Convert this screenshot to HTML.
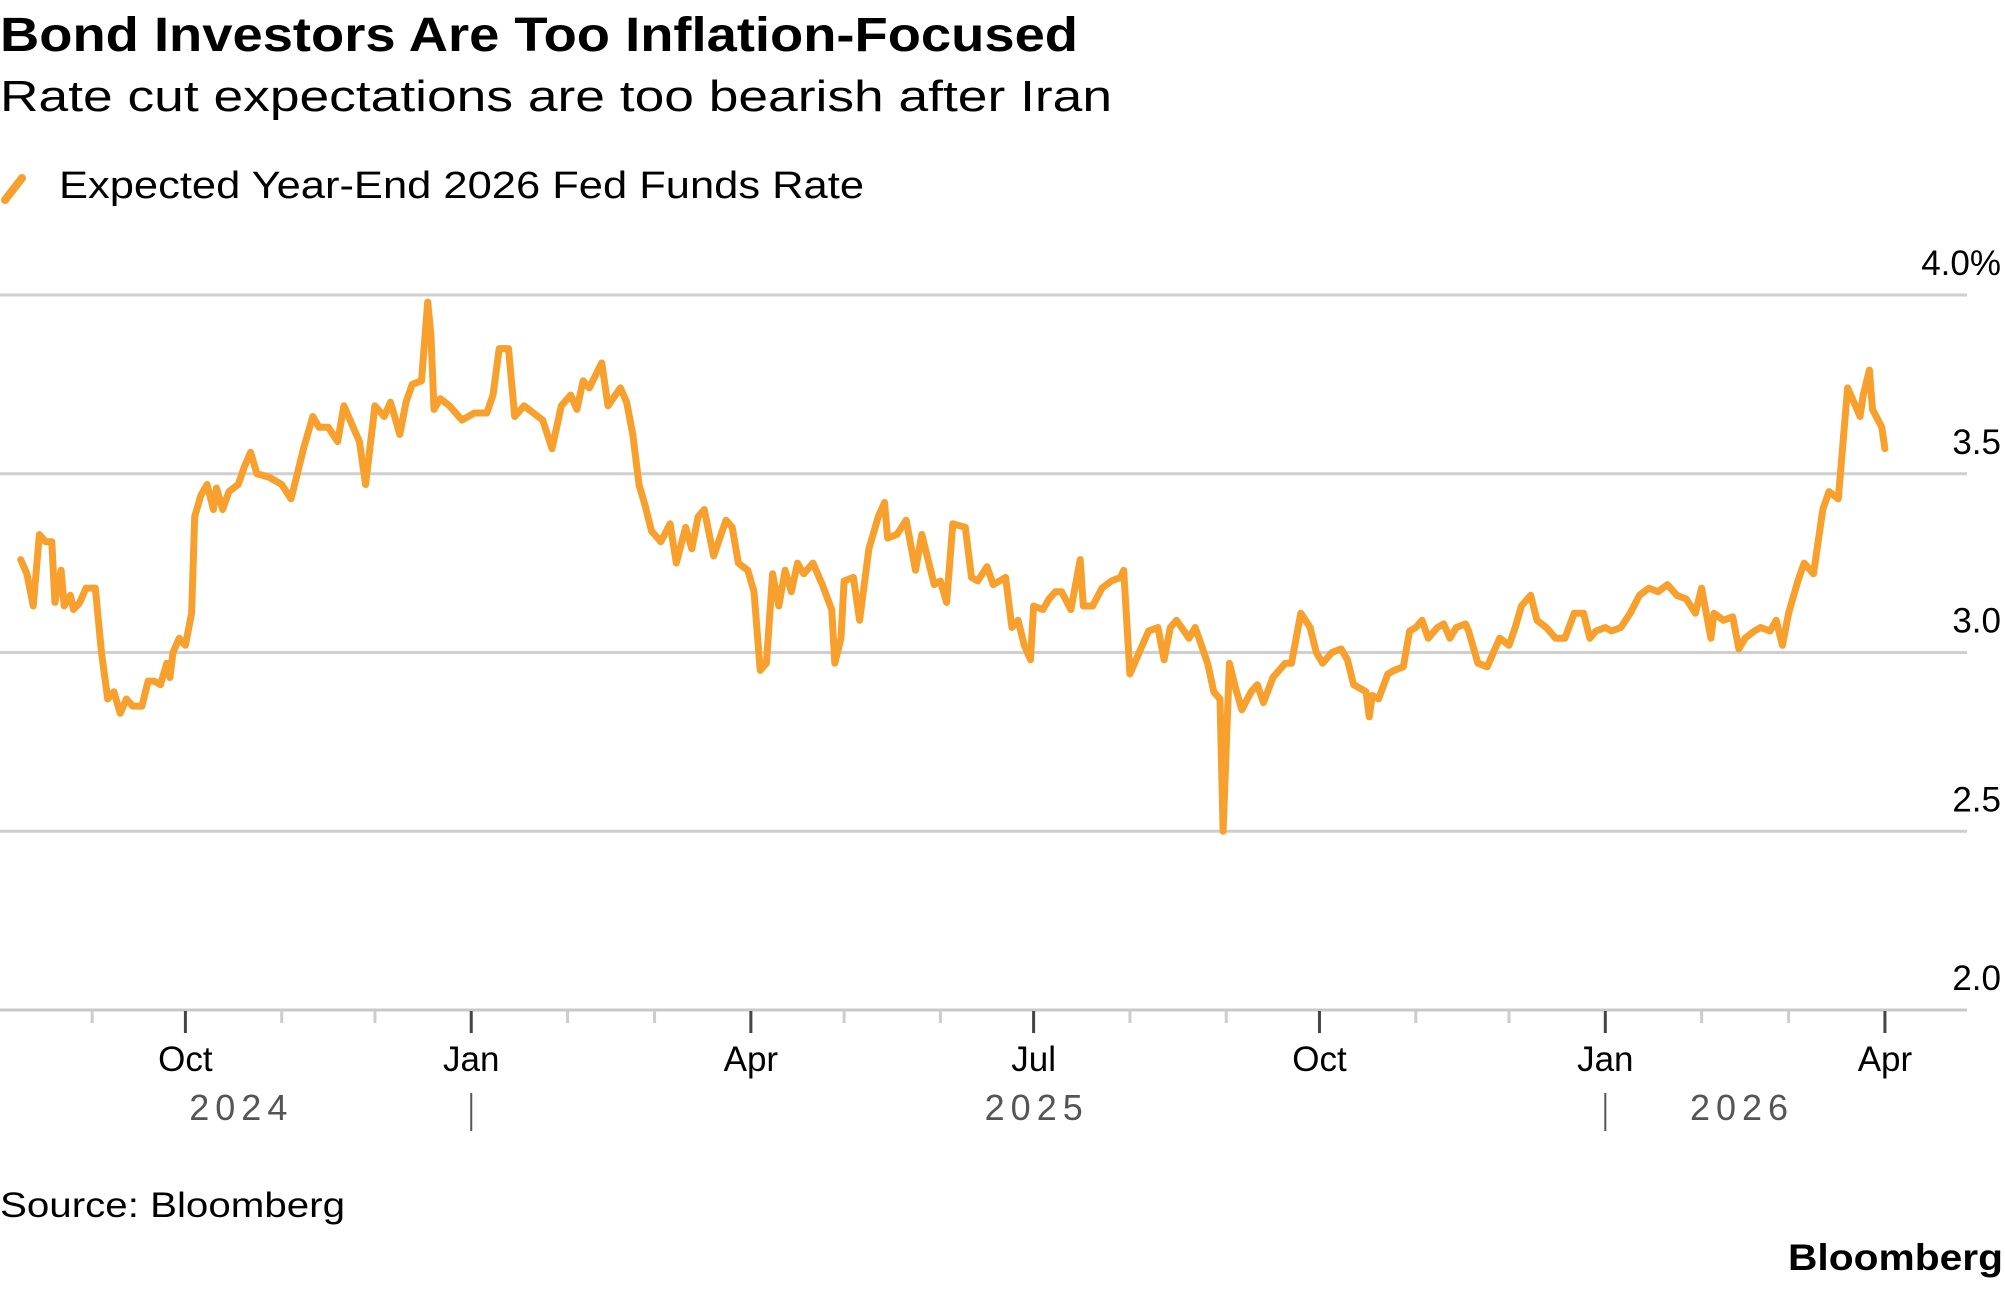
<!DOCTYPE html>
<html><head><meta charset="utf-8">
<style>
body{margin:0;background:#fff;width:2005px;height:1287px;overflow:hidden;font-family:"Liberation Sans",sans-serif;}
svg text{font-family:"Liberation Sans",sans-serif;}
</style></head>
<body>
<svg width="2005" height="1287" viewBox="0 0 2005 1287">
<text x="0" y="51" font-size="48" font-weight="bold" fill="#000" textLength="1078" lengthAdjust="spacingAndGlyphs">Bond Investors Are Too Inflation-Focused</text>
<text x="0" y="111" font-size="44" fill="#000" textLength="1112" lengthAdjust="spacingAndGlyphs">Rate cut expectations are too bearish after Iran</text>
<g>
<line x1="5" y1="200" x2="22" y2="178" stroke="#f8a02d" stroke-width="8" stroke-linecap="round"/>
<text x="59" y="198" font-size="38" fill="#000" textLength="805" lengthAdjust="spacingAndGlyphs">Expected Year-End 2026 Fed Funds Rate</text>
</g>
<g id="grid"></g>
<g id="yl"></g>
<g id="xa"></g>
<path id="ln" fill="none" stroke="#f8a02d" stroke-width="7" stroke-linejoin="round" stroke-linecap="round"/>
<text x="0" y="1217" font-size="35" fill="#000" textLength="345" lengthAdjust="spacingAndGlyphs">Source: Bloomberg</text>
<text x="2003" y="1270" font-size="37" font-weight="bold" fill="#000" text-anchor="end" textLength="215" lengthAdjust="spacingAndGlyphs">Bloomberg</text>
</svg>
<script>
const days=[-53,-51,-49,-47,-45,-43,-42,-40,-39,-37,-36,-34,-32,-29,-27,-25,-23,-21,-19,-17,-14,-12,-10,-8,-6,-5,-4,-2,0,2,3,5,7,9,10,12,14,17,19,21,23,27,31,34,36,38,41,43,46,49,51,56,58,61,64,66,69,71,73,76,78,79,80,82,85,89,93,97,99,101,104,106,109,112,115,118,121,124,126,128,130,134,136,140,142,144,146,148,150,153,156,158,161,163,165,167,170,174,176,178,181,183,185,187,189,191,193,195,197,199,202,205,208,209,211,212,215,217,220,223,225,226,229,232,235,237,241,243,245,247,251,253,255,258,260,264,266,268,270,272,273,276,278,280,282,285,288,289,292,295,298,301,302,304,307,310,313,315,317,319,323,325,327,329,331,333,334,336,338,340,343,345,347,350,354,356,359,362,364,366,369,372,374,376,380,381,382,384,387,389,392,394,396,398,400,403,405,407,409,412,413,416,419,421,423,426,428,430,433,435,438,441,444,447,450,452,454,457,459,462,465,468,471,474,477,480,483,486,488,491,492,495,498,500,502,505,507,510,512,514,516,519,521,524,527,529,532,535,537,539,540,542,543,546,547];
const rates=[3.26,3.22,3.13,3.33,3.31,3.31,3.14,3.23,3.13,3.16,3.12,3.14,3.18,3.18,3.00,2.87,2.89,2.83,2.87,2.85,2.85,2.92,2.92,2.91,2.97,2.93,3.00,3.04,3.02,3.11,3.38,3.44,3.47,3.40,3.46,3.40,3.45,3.47,3.52,3.56,3.50,3.49,3.47,3.43,3.50,3.57,3.66,3.63,3.63,3.59,3.69,3.59,3.47,3.69,3.66,3.70,3.61,3.70,3.75,3.76,3.98,3.89,3.68,3.71,3.69,3.65,3.67,3.67,3.72,3.85,3.85,3.66,3.69,3.67,3.65,3.57,3.69,3.72,3.68,3.76,3.74,3.81,3.69,3.74,3.70,3.61,3.47,3.41,3.34,3.31,3.36,3.25,3.35,3.29,3.38,3.40,3.27,3.37,3.35,3.25,3.23,3.17,2.95,2.97,3.22,3.13,3.23,3.17,3.25,3.22,3.25,3.19,3.12,2.97,3.04,3.20,3.21,3.09,3.29,3.38,3.42,3.32,3.33,3.37,3.23,3.33,3.19,3.20,3.14,3.36,3.35,3.21,3.20,3.24,3.19,3.21,3.07,3.09,3.02,2.98,3.13,3.12,3.15,3.17,3.17,3.12,3.26,3.13,3.13,3.18,3.20,3.21,3.23,2.94,3.00,3.06,3.07,2.98,3.07,3.09,3.04,3.07,3.02,2.97,2.89,2.87,2.50,2.97,2.90,2.84,2.89,2.91,2.86,2.93,2.97,2.97,3.11,3.07,3.00,2.97,3.00,3.01,2.98,2.91,2.89,2.82,2.88,2.87,2.94,2.95,2.96,3.06,3.07,3.09,3.04,3.07,3.08,3.04,3.07,3.08,3.06,2.97,2.96,3.00,3.04,3.02,3.07,3.13,3.16,3.09,3.07,3.04,3.04,3.11,3.11,3.04,3.06,3.07,3.06,3.07,3.11,3.16,3.18,3.17,3.19,3.16,3.15,3.11,3.18,3.04,3.11,3.09,3.10,3.01,3.04,3.06,3.07,3.06,3.09,3.02,3.11,3.20,3.25,3.22,3.40,3.45,3.43,3.74,3.70,3.66,3.72,3.79,3.68,3.63,3.57,3.57];
const yTicks=[2.0,2.5,3.0,3.5,4.0];
const yTickLabels=["2.0","2.5","3.0","3.5","4.0%"];
const monthTicks=[-30,0,31,61,92,123,151,182,212,243,273,304,335,365,396,426,457,488,516,547];
const majorTicks=[0,92,182,273,365,457,547];
const majorLabels=["Oct","Jan","Apr","Jul","Oct","Jan","Apr"];
const yearLabels=["2024","2025","2026"];
const yearCenters=[18,274,501];
const yearDividers=[92,457];

const X0=185.4,KX=3.107;
function xs(d){return X0+d*KX;}
function ys(v){return 1010-(v-2.0)*357.5;}
const NS="http://www.w3.org/2000/svg";
function mk(tag,attrs,parent){const e=document.createElementNS(NS,tag);for(const k in attrs)e.setAttribute(k,attrs[k]);parent.appendChild(e);return e;}
const grid=document.getElementById('grid'),yl=document.getElementById('yl'),xa=document.getElementById('xa');
yTicks.forEach((v,i)=>{
  const l=mk('line',{x1:0,x2:1967,y1:ys(v),y2:ys(v),stroke:i===0?'#c8c8c8':'#cfcfcf','stroke-width':3},grid);
  
  
  const t=mk('text',{x:2001,y:ys(v)-20,'font-size':35,'text-anchor':'end',fill:'#000'},yl);
  t.textContent=yTickLabels[i];
  
  
});
monthTicks.forEach(d=>{
  const maj=majorTicks.includes(d);
  const l=mk('line',{x1:xs(d),x2:xs(d),y1:1011,y2:maj?1033:1023,stroke:maj?'#444':'#ccc','stroke-width':3},xa);
  
  
});
majorTicks.forEach((d,i)=>{
  const t=mk('text',{x:xs(d),y:1071,'font-size':35,'text-anchor':'middle',fill:'#000'},xa);
  t.textContent=majorLabels[i];
  
  
});
yearLabels.forEach((y,i)=>{
  const t=mk('text',{x:xs(yearCenters[i]),y:1120,'font-size':36,'text-anchor':'middle',fill:'#555','letter-spacing':6},xa);
  t.textContent=y;
  
  
});
yearDividers.forEach(d=>{
  const l=mk('line',{x1:xs(d),x2:xs(d),y1:1093,y2:1131,stroke:'#555','stroke-width':2},xa);
  
  
});
let p='';
days.forEach((d,i)=>{p+=(i?'L':'M')+xs(d).toFixed(1)+','+ys(rates[i]).toFixed(1);});
document.getElementById('ln').setAttribute('d',p);
</script>
</body></html>
